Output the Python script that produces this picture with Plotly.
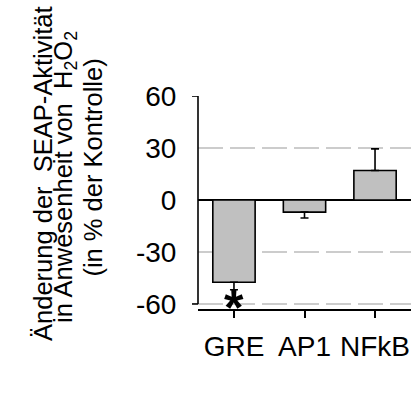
import plotly.graph_objects as go

categories = ["GRE", "AP1", "NFkB"]
values = [-47.5, -7.0, 17.0]
err_plus = [0, 0, 12.5]
err_minus = [4.3, 3.4, 0]
y_ticks = [60, 30, 0, -30, -60]
title_lines = [
    "Änderung der\u00a0\u00a0SEAP-Aktivität",
    "in Anwesenheit von\u00a0\u00a0H<sub>2</sub>O<sub>2</sub>",
    "(in % der Kontrolle)",
]
star_label = "<b>*</b>"

FONT = "Liberation Sans, Arial, sans-serif"

fig = go.Figure()
fig.add_trace(go.Bar(
    x=list(range(len(categories))), y=values, width=0.6,
    marker=dict(color="#c0c0c0", line=dict(color="black", width=1.6)),
    error_y=dict(type="data", symmetric=False, array=err_plus, arrayminus=err_minus,
                 color="black", thickness=1.6, width=4),
    showlegend=False,
))

fig.update_layout(
    width=412, height=396, autosize=False,
    margin=dict(l=198, r=1, t=96, b=87, pad=0),
    paper_bgcolor="white", plot_bgcolor="white",
    font=dict(family=FONT, size=28, color="black"),
    xaxis=dict(
        range=[-0.51, 2.51], tickvals=list(range(len(categories))), ticktext=categories,
        showline=True, linecolor="black", linewidth=1.6,
        ticks="outside", ticklen=7, tickwidth=1.6, tickcolor="black",
        ticklabelstandoff=5,
        showgrid=False, zeroline=False, tickfont=dict(size=28),
    ),
    yaxis=dict(
        range=[-62.9, 60], tickvals=y_ticks, ticktext=[str(v) for v in y_ticks],
        showline=False, ticks="outside", ticklen=15, tickcolor="rgba(0,0,0,0)",
        showgrid=True, gridcolor="#cccccc", gridwidth=1.5, griddash="25px,7px",
        zeroline=True, zerolinecolor="black", zerolinewidth=2,
        tickfont=dict(size=28),
    ),
)

# y-axis line spanning only 60..-60, plus end ticks
fig.add_shape(type="line", xref="paper", yref="y", x0=0, x1=0, y0=min(y_ticks), y1=max(y_ticks),
              line=dict(color="black", width=1.6))
for v in (max(y_ticks), min(y_ticks)):
    fig.add_shape(type="line", xref="paper", yref="y", x0=-6/213, x1=0, y0=v, y1=v,
                  line=dict(color="black", width=1.6))

# significance star below GRE
fig.add_annotation(x=0, y=-60, xref="x", yref="y", text=star_label, showarrow=False,
                   font=dict(family=FONT, size=50, color="black"), yanchor="middle",
                   xanchor="center", yshift=-4)

# y title lines
xs = [-155, -133, -105]
ys = [0.634, 0.62, 0.664]
for t, xs_, y_ in zip(title_lines, xs, ys):
    fig.add_annotation(x=0, y=y_, xref="paper", yref="paper", text=t, textangle=-90,
                       showarrow=False, xanchor="center", yanchor="middle", xshift=xs_,
                       font=dict(family=FONT, size=25.5, color="black"))

fig.write_html("out.html")
